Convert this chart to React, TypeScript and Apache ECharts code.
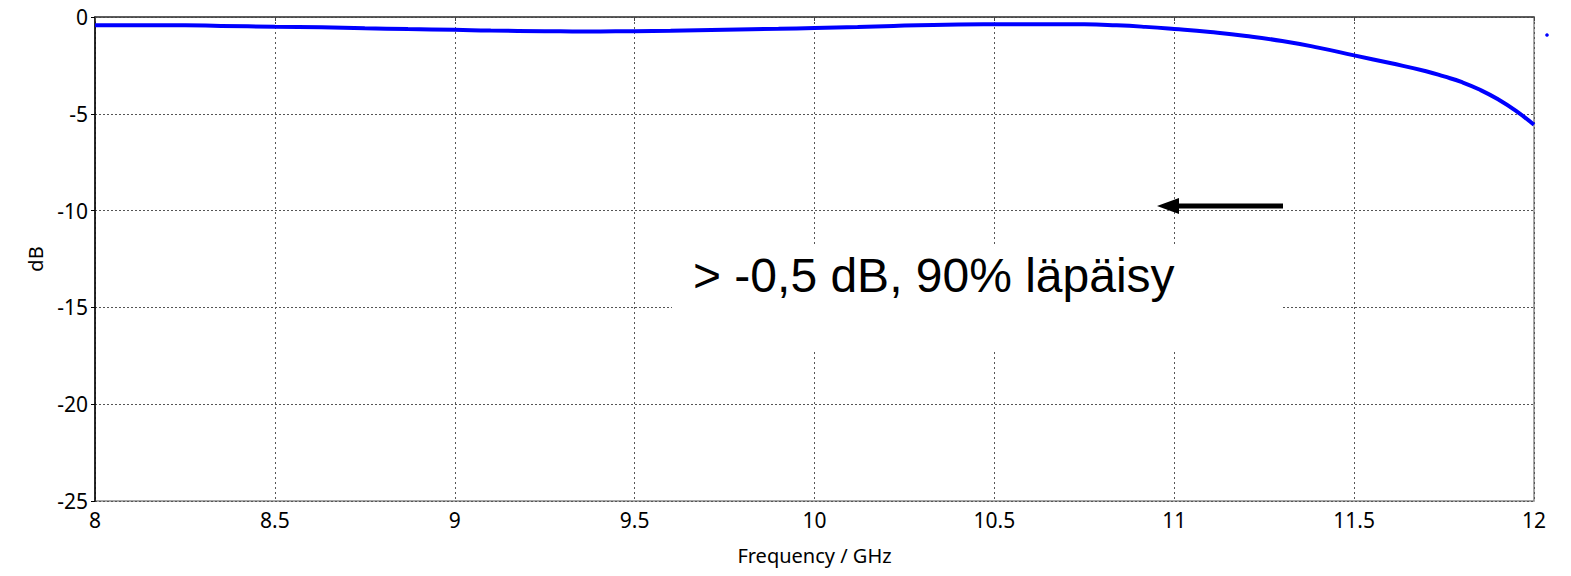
import React, { useEffect, useRef } from "react";
import * as echarts from "echarts";

const freqGHz = [8.0, 8.25, 8.35, 8.5, 8.63, 8.75, 8.87, 9.0, 9.1, 9.25, 9.36, 9.5, 9.6, 9.75, 9.9, 10.0, 10.12, 10.22, 10.33, 10.47, 10.6, 10.75, 10.84, 10.92, 11.0, 11.1, 11.2, 11.3, 11.4, 11.5, 11.6, 11.7, 11.75, 11.8, 11.85, 11.9, 11.95, 12.0];
const s21dB = [-0.42, -0.43, -0.46, -0.5, -0.53, -0.58, -0.62, -0.66, -0.7, -0.73, -0.75, -0.73, -0.71, -0.66, -0.61, -0.57, -0.52, -0.46, -0.41, -0.38, -0.37, -0.38, -0.43, -0.51, -0.62, -0.78, -0.98, -1.24, -1.58, -1.98, -2.38, -2.8, -3.07, -3.37, -3.76, -4.25, -4.85, -5.57];

const xTicks = { min: 8, max: 12, interval: 0.5 };
const yTicks = { min: -25, max: 0, interval: 5 };
const annotationText = "> -0,5 dB, 90% läpäisy";
const xName = "Frequency / GHz";
const yName = "dB";

export default function App() {
  const ref = useRef<HTMLDivElement>(null);
  useEffect(() => {
    if (!ref.current) return;
    const chart = echarts.init(ref.current, undefined, { renderer: "svg" });
    const labelFont = { fontFamily: "Noto Sans", fontSize: 21, color: "#000" };
    chart.setOption({
      animation: false,
      backgroundColor: "#fff",
      grid: {
        left: 95,
        top: 17,
        right: 37,
        bottom: 75,
        show: true,
        borderColor: "#8a8a8a",
        borderWidth: 1.5,
        backgroundColor: "transparent",
      },
      xAxis: {
        type: "value",
        min: xTicks.min,
        max: xTicks.max,
        interval: xTicks.interval,
        name: xName,
        nameLocation: "middle",
        nameGap: 44,
        nameTextStyle: { ...labelFont, fontSize: 20 },
        axisLine: { show: true, lineStyle: { color: "#444", width: 1.5 } },
        axisTick: { show: true, length: 4, lineStyle: { color: "#444" } },
        axisLabel: { ...labelFont, margin: 8 },
        splitLine: { show: true, lineStyle: { color: "#555", type: [2, 3], width: 1 } },
      },
      yAxis: {
        type: "value",
        min: yTicks.min,
        max: yTicks.max,
        interval: yTicks.interval,
        name: yName,
        nameLocation: "middle",
        nameGap: 50,
        nameRotate: 90,
        nameTextStyle: { ...labelFont, fontSize: 20 },
        axisLine: { show: true, onZero: false, lineStyle: { color: "#000", width: 1.5 } },
        axisTick: { show: true, length: 4, lineStyle: { color: "#000" } },
        axisLabel: { ...labelFont, margin: 7 },
        splitLine: { show: true, lineStyle: { color: "#555", type: [2, 2], width: 1 } },
      },
      series: [
        {
          type: "line",
          data: freqGHz.map((f, i) => [f, s21dB[i]]),
          showSymbol: false,
          smooth: 0.5,
          lineStyle: { color: "#0000ff", width: 4 },
          z: 5,
        },
      ],
      graphic: [
        {
          type: "rect",
          z: 10,
          shape: { x: 672, y: 245, width: 611, height: 105 },
          style: { fill: "#fff" },
        },
        {
          type: "text",
          z: 11,
          x: 693,
          y: 275,
          style: {
            text: annotationText,
            fontFamily: "Liberation Sans",
            fontSize: 48,
            fill: "#000",
            verticalAlign: "middle",
            align: "left",
          },
        },
        {
          type: "line",
          z: 11,
          shape: { x1: 1176, y1: 206, x2: 1283, y2: 206 },
          style: { stroke: "#000", lineWidth: 5 },
        },
        {
          type: "polygon",
          z: 11,
          shape: { points: [[1157, 206], [1179, 198], [1179, 214]] },
          style: { fill: "#000" },
        },
        {
          type: "circle",
          z: 11,
          shape: { cx: 1547, cy: 35, r: 1.8 },
          style: { fill: "#0000ff" },
        },
      ],
    });
    return () => chart.dispose();
  }, []);
  return (
    <div
      ref={ref}
      style={{ position: "fixed", left: 0, top: 0, width: 1571, height: 576, background: "#fff" }}
    />
  );
}
